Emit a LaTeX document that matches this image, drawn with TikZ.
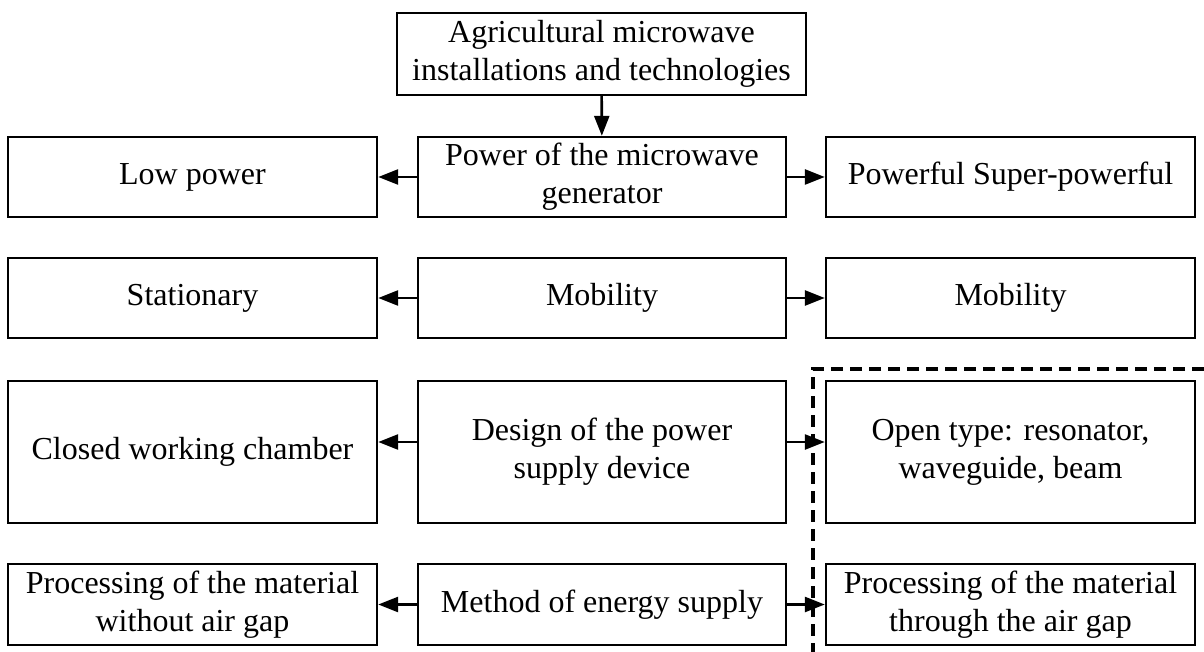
\documentclass[tikz,border=0pt]{standalone}
\usepackage{fontspec}
\setmainfont{Liberation Serif}
\usetikzlibrary{arrows.meta}
\begin{document}
\begin{tikzpicture}[x=0.5pt,y=-0.5pt,
  box/.style={draw, line width=1.2pt, inner sep=0pt, align=center,
    font=\fontsize{16pt}{19pt}\selectfont},
  conn/.style={line width=1.3pt, -{Triangle[length=10pt,width=7.5pt]}},
  dashline/.style={line width=1.6pt, dash pattern=on 6pt off 3.5pt}]
\useasboundingbox (0,0) rectangle (1204,652);
\fill[white] (0,0) rectangle (1204,652);
% top
\node[box, minimum width=204.5pt, minimum height=41pt] (top) at (601.5,54) {Agricultural microwave\\installations and technologies};
% row 1
\node[box, minimum width=184.5pt, minimum height=40pt] (l1) at (192.5,177) {Low power};
\node[box, minimum width=184pt, minimum height=40pt] (m1) at (602,177) {Power of the microwave\\generator};
\node[box, minimum width=184.5pt, minimum height=40pt] (r1) at (1010.5,177) {Powerful Super-powerful};
% row 2
\node[box, minimum width=184.5pt, minimum height=40pt] (l2) at (192.5,298) {Stationary};
\node[box, minimum width=184pt, minimum height=40pt] (m2) at (602,298) {Mobility};
\node[box, minimum width=184.5pt, minimum height=40pt] (r2) at (1010.5,298) {Mobility};
% row 3
\node[box, minimum width=184.5pt, minimum height=71pt] (l3) at (192.5,452) {Closed working chamber};
\node[box, minimum width=184pt, minimum height=71pt] (m3) at (602,452) {Design of the power\\supply device};
\node[box, minimum width=184.5pt, minimum height=71pt] (r3) at (1010.5,452) {Open type: resonator,\\waveguide, beam};
% row 4
\node[box, minimum width=184.5pt, minimum height=40.5pt] (l4) at (192.5,604.5) {Processing of the material\\without air gap};
\node[box, minimum width=184pt, minimum height=40.5pt] (m4) at (602,604.5) {Method of energy supply};
\node[box, minimum width=184.5pt, minimum height=40.5pt] (r4) at (1010.5,604.5) {Processing of the material\\through the air gap};
% connectors
\draw[conn] (top) -- (m1);
\draw[conn] (m1) -- (l1);
\draw[conn] (m1) -- (r1);
\draw[conn] (m2) -- (l2);
\draw[conn] (m2) -- (r2);
\draw[conn] ([yshift=5pt]m3.west) -- ([yshift=5pt]l3.east);
\draw[conn] ([yshift=5pt]m3.east) -- ([yshift=5pt]r3.west);
\draw[conn] (m4) -- (l4);
\draw[conn] (m4) -- (r4);
% dashed region
\draw[dashline] (1204,369) -- (813,369) -- (813,652);
\end{tikzpicture}
\end{document}
